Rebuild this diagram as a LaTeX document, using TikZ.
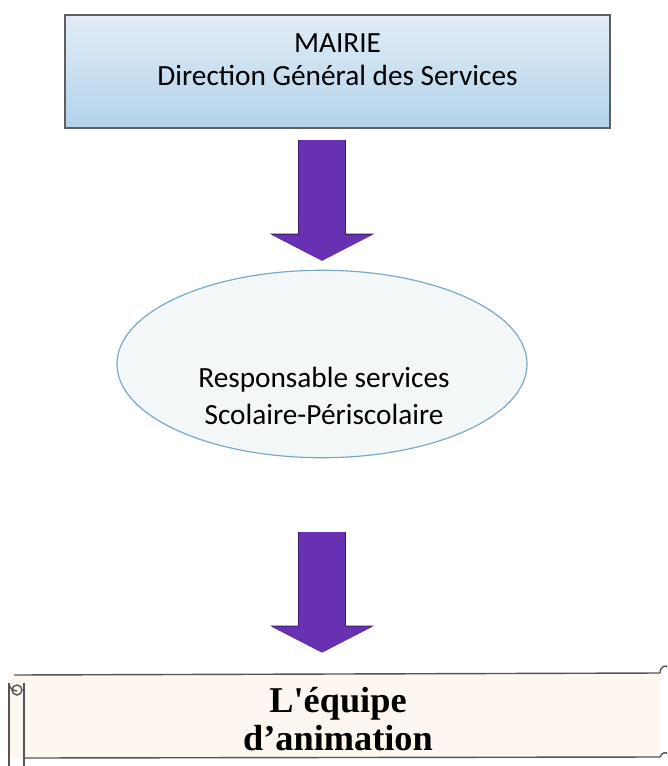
\documentclass[tikz,border=0pt]{standalone}
\usepackage{fontspec}
\setmainfont{Carlito}
\newfontfamily\teamfont[Ligatures=TeXOff]{Liberation Serif}
\usetikzlibrary{shapes.geometric,arrows.meta,calc}
\definecolor{arrowpurple}{RGB}{104,48,178}
\definecolor{arrowedge}{RGB}{60,30,100}
\definecolor{boxtop}{RGB}{226,237,247}
\definecolor{boxbot}{RGB}{178,211,234}
\definecolor{boxedge}{RGB}{95,95,95}
\definecolor{ellfill}{RGB}{244,247,247}
\definecolor{elledge}{RGB}{120,168,198}
\definecolor{scrollfill}{RGB}{253,247,240}
\definecolor{scrolledge}{RGB}{85,85,85}
\tikzset{
  topbox/.style={rectangle, draw=boxedge, line width=1.2pt, top color=boxtop, bottom color=boxbot,
    minimum width=465pt, minimum height=96.5pt, inner sep=0pt},
  ellbox/.style={ellipse, draw=elledge, line width=1pt, fill=ellfill,
    minimum width=350pt, minimum height=160pt, inner sep=0pt},
  teambox/.style={rectangle, fill=scrollfill, minimum width=543pt, minimum height=70pt, inner sep=0pt},
  lbl/.style={align=center, font=\fontsize{25}{28.5}\selectfont, text=black},
  teamlbl/.style={align=center, font=\teamfont\bfseries\fontsize{31}{32}\selectfont, text=black},
  bigarrow/.style={draw=arrowpurple, line width=39pt,
    -{Triangle[width=85pt,length=22pt]},
    preaction={draw=arrowedge, line width=41pt, -{Triangle[width=88pt,length=23pt]}}},
  scrollline/.style={draw=scrolledge, line width=1.2pt},
}
\begin{document}
\begin{tikzpicture}[x=0.03cm, y=-0.03cm]
\useasboundingbox (0,0) rectangle (667,766);
\clip (0,0) rectangle (667,766);
% top box
\node[topbox] (top) at (337.5,71.5) {};
\node[lbl] (toptext) at (337.5,60) {MAIRIE\\Direction Général des Services};
% ellipse
\node[ellbox] (ell) at (322,364) {};
\node[lbl, font=\fontsize{25}{31}\selectfont] (elltext) at (324,396) {Responsable services\\Scolaire-Périscolaire};
% bottom scroll
\fill[scrollfill] (18,675) -- (660,673) -- (660,757) -- (9,758) -- (9,683) -- cycle;
\node[teambox] (team) at (342,716) {};
\draw[scrollline] (14,675) -- (660,673);
\draw[scrollline] (24,758) -- (660,757);
\draw[scrollline] (9,683) -- (9,770);
\draw[scrollline] (24,683) -- (24,770);
\draw[scrollline] (9,683) arc[start angle=180, end angle=90, radius=8] ;
\draw[scrollline] (17,690) circle[radius=5];
\draw[scrollline] (660,673) .. controls (660,666) and (667,664) .. (668,668);
\draw[scrollline] (660,757) .. controls (662,752) and (666,752) .. (668,754);
\node[teamlbl] (teamtext) at (338,719) {L'équipe\\d’animation};
% arrows
\draw[bigarrow] ([yshift=-9.4pt]top.south -| ell.north) -- ([yshift=7.7pt]ell.north);
\draw[bigarrow] ([yshift=-63pt]ell.south) -- ([yshift=19pt]ell.south |- team.north);
\end{tikzpicture}
\end{document}
